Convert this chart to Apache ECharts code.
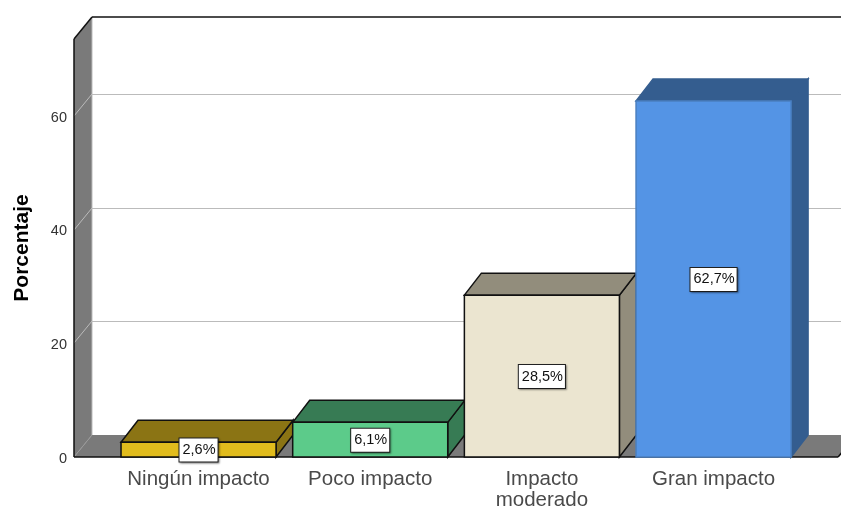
<!DOCTYPE html>
<html><head><meta charset="utf-8">
<style>html,body{margin:0;padding:0;background:#fff}#c{width:841px;height:508px}</style>
<script src="https://cdn.jsdelivr.net/npm/echarts@6/dist/echarts.min.js"></script>
</head><body><div id="c"></div>
<script>
const categories = ['Ningún impacto','Poco impacto','Impacto\nmoderado','Gran impacto'];
const values = [2.6,6.1,28.5,62.7];
const yTicks = [20,40,60];
const frontColors = ['#E1BC1D','#5CCB8A','#EBE5D0','#5494E5'];
const darkColors = ['#8B7414','#377B54','#928D7C','#345D8F'];
const strokeColors = ['#111','#111','#111','#4A7FC0'];
const FONT = '"Liberation Sans",Arial,sans-serif';
const DX = 17, DY = 22, WALL_DX = 18, AXIS_PAD = 38.7, YMAX = 73.6;

const chart = echarts.init(document.getElementById('c'), null, {renderer:'canvas'});
function poly(points, fill, stroke, lw){
  return {type:'polygon', shape:{points}, style:{fill, stroke:stroke||null, lineWidth:lw||0}};
}
function line(x1,y1,x2,y2,stroke,lw){
  return {type:'line', shape:{x1,y1,x2,y2}, style:{stroke, lineWidth:lw, fill:null}};
}
function renderWalls(params, api){
  const cs = params.coordSys;
  const x0 = cs.x - AXIS_PAD, x1 = cs.x + cs.width + AXIS_PAD;
  const y0 = api.coord([0,0])[1], yT = api.coord([0,YMAX])[1];
  const W = WALL_DX, H = DY, gray = '#7A7A7A', grid = '#BBBBBB', ink = '#111';
  const c = [];
  c.push(poly([[x0,yT],[x0+W,yT-H],[x0+W,y0-H],[x0,y0]], gray));
  c.push(poly([[x0,y0],[x0+W,y0-H],[x1+W,y0-H],[x1,y0]], gray));
  yTicks.forEach(v=>{
    const y = Math.round(api.coord([0,v])[1]);
    c.push(line(x0,y,x0+W,y-H,grid,1));
    c.push(line(x0+W,y-H+0.5,x1+W,y-H+0.5,grid,1.2));
  });
  c.push(line(x0,y0,x0+W,y0-H,'#9A9A9A',1));
  c.push(line(x0+W,yT-H,x0+W,y0-H,grid,1));
  c.push(line(x0+W,yT-H,x1+W,yT-H,ink,1.5));
  c.push(line(x0,yT,x0+W,yT-H,ink,1.5));
  c.push(line(x0,yT,x0,y0,ink,1.5));
  c.push(line(x0,y0,x1,y0,ink,1.5));
  c.push(line(x1,y0,x1+W,y0-H,ink,1.5));
  return {type:'group', children:c};
}
function renderBar(params, api){
  const i = api.value(0), v = api.value(1);
  const p = api.coord([i,v]), b = api.coord([i,0]);
  const w = api.size([1,0])[0]*0.903;
  const l = p[0]-w/2, r = p[0]+w/2, t = p[1], y0 = b[1];
  const s = strokeColors[i], lw = 1.5, d = darkColors[i];
  const text = v.toFixed(1).replace('.',',')+'%';
  const edge = i===3 ? d : s;
  return {type:'group', children:[
    poly([[r,t],[r+DX,t-DY],[r+DX,y0-DY],[r,y0]], d, edge, lw),
    poly([[l,t],[l+DX,t-DY],[r+DX,t-DY],[r,t]], d, edge, lw),
    {type:'rect', shape:{x:l,y:t,width:w,height:y0-t}, style:{fill:frontColors[i], stroke:s, lineWidth:lw}},
    {type:'text', x:p[0], y:(t+y0)/2+0.5,
     style:{text, font:'14.5px '+FONT, fill:'#111', align:'center', verticalAlign:'middle',
       backgroundColor:'#fff', borderColor:'#222', borderWidth:1, padding:[5,2,3,3],
       shadowColor:'rgba(0,0,0,0.35)', shadowBlur:2, shadowOffsetX:1, shadowOffsetY:1}}
  ]};
}
chart.setOption({
  animation:false,
  backgroundColor:'#fff',
  grid:{left:112.7, width:686.7, top:39, height:418, containLabel:false, outerBoundsMode:'none'},
  xAxis:{type:'category', data:categories,
    axisLine:{show:false}, axisTick:{show:false}, splitLine:{show:false},
    axisLabel:{color:'#4A4A4A', fontFamily:FONT, fontSize:20.5, lineHeight:21, margin:12, interval:0}},
  yAxis:{type:'value', min:0, max:YMAX, interval:20, offset:AXIS_PAD,
    name:'Porcentaje', nameLocation:'middle', nameGap:41, nameRotate:90,
    nameTextStyle:{color:'#000', fontFamily:FONT, fontSize:21, fontWeight:'bold'},
    axisLine:{show:false}, axisTick:{show:false}, splitLine:{show:false},
    axisLabel:{color:'#333', fontFamily:FONT, fontSize:14.5, margin:7, verticalAlign:'top', lineHeight:3, showMaxLabel:false}},
  series:[
    {type:'custom', renderItem:renderWalls, data:[[0,0]], silent:true, z:1, clip:false},
    {type:'custom', renderItem:renderBar, data:values.map((v,i)=>[i,v]), z:2, clip:false, encode:{x:0,y:1}}
  ]
});
</script></body></html>
